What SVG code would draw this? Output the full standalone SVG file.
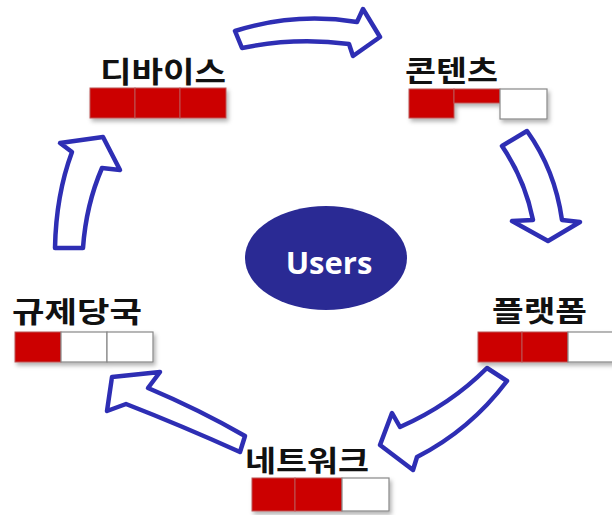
<svg xmlns="http://www.w3.org/2000/svg" width="612" height="515" viewBox="0 0 612 515">
<style>
.lbl{font-family:"Noto Sans CJK KR","Noto Sans",sans-serif;font-weight:700;font-size:29px;fill:#111}
.on{fill:#cc0000;stroke:#b55;stroke-width:1}
.off{fill:#fff;stroke:#888;stroke-width:1.2}
.arr{fill:#fff;stroke:#2e2eb4;stroke-width:4.5;stroke-linejoin:round}
</style>
<defs>
<filter id="sh" x="-10%" y="-10%" width="130%" height="140%">
<feDropShadow dx="2" dy="3" stdDeviation="2" flood-color="#000" flood-opacity="0.3"/>
</filter>
</defs>
<rect width="612" height="515" fill="#fff"/>
<g id="connectors">
<path class="arr" d="M235,31 Q295,12 357,22 L363,9 L380,37 L353,56 L349,44 Q295,37 242,48 Z"/>
<path class="arr" d="M502,146 L527,131 Q555,170 562,220 L580,222 L548,241 L512,221 L533,220 Q525,180 502,146 Z"/>
<path class="arr" d="M487,368 L507,381 Q470,430 417,457 L413,470 L380,445 L392,413 L400,427 Q450,405 487,368 Z"/>
<path class="arr" d="M112,377 L160,372 L148,388 Q200,410 245,436 L240,452 Q180,425 126,404 L107,411 Z"/>
<path class="arr" d="M55,248 Q56,195 72,152 L60,143 L103,137 L120,170 L102,168 Q86,205 83,248 Z"/>
</g>
<g id="users">
<ellipse cx="326" cy="258" rx="81" ry="52" fill="#2a2a94"/>
<text x="329" y="274" font-family="'Open Sans','Liberation Sans',sans-serif" font-weight="700" font-size="31" fill="#fff" text-anchor="middle">Users</text>
</g>
<g id="device">
<text class="lbl" x="100" y="83" textLength="126" lengthAdjust="spacingAndGlyphs">디바이스</text>
<g filter="url(#sh)">
<rect class="on" x="90" y="88" width="45" height="30"/>
<rect class="on" x="135" y="88" width="45" height="30"/>
<rect class="on" x="180" y="88" width="46" height="30"/>
</g>
</g>
<g id="content">
<text class="lbl" x="405" y="82" textLength="93" lengthAdjust="spacingAndGlyphs">콘텐츠</text>
<g filter="url(#sh)">
<rect class="on" x="409" y="89" width="45" height="29"/>
<rect class="on" x="454" y="89" width="46" height="14"/>
<rect class="off" x="500" y="89" width="47" height="30"/>
</g>
</g>
<g id="regulator">
<text class="lbl" x="12" y="323" textLength="130" lengthAdjust="spacingAndGlyphs">규제당국</text>
<g filter="url(#sh)">
<rect class="on" x="15" y="332" width="46" height="30"/>
<rect class="off" x="61" y="332" width="46" height="30"/>
<rect class="off" x="107" y="332" width="46" height="30"/>
</g>
</g>
<g id="platform">
<text class="lbl" x="492" y="322" textLength="95" lengthAdjust="spacingAndGlyphs">플랫폼</text>
<g filter="url(#sh)">
<rect class="on" x="478" y="332" width="44" height="30"/>
<rect class="on" x="522" y="332" width="46" height="30"/>
<rect class="off" x="568" y="332" width="46" height="30"/>
</g>
</g>
<g id="network">
<text class="lbl" x="245" y="472" textLength="124" lengthAdjust="spacingAndGlyphs">네트워크</text>
<g filter="url(#sh)">
<rect class="on" x="252" y="478" width="43" height="33"/>
<rect class="on" x="295" y="478" width="47" height="33"/>
<rect class="off" x="342" y="478" width="47" height="33"/>
</g>
</g>
</svg>
